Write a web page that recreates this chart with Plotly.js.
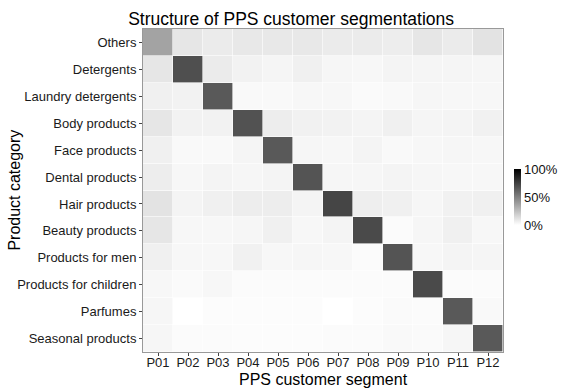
<!DOCTYPE html>
<html>
<head>
<meta charset="utf-8">
<script src="https://cdn.plot.ly/plotly-3.0.1.min.js"></script>
<style>
  body { margin: 0; background: #fff; }
  #myDiv { width: 581px; height: 388px; }
</style>
</head>
<body>
<div id="myDiv"></div>
<script>
// customer segments (columns) and product categories (rows)
var segments = ["P01","P02","P03","P04","P05","P06","P07","P08","P09","P10","P11","P12"];
var categories = ["Others","Detergents","Laundry detergents","Body products","Face products",
  "Dental products","Hair products","Beauty products","Products for men",
  "Products for children","Parfumes","Seasonal products"];

// share of each segment per category
var others      = [0.36,0.10,0.08,0.09,0.09,0.09,0.08,0.08,0.07,0.10,0.08,0.11];
var detergents  = [0.10,0.69,0.08,0.05,0.04,0.06,0.035,0.03,0.045,0.04,0.04,0.035];
var laundry     = [0.06,0.05,0.65,0.025,0.025,0.03,0.03,0.02,0.025,0.035,0.03,0.03];
var body        = [0.10,0.05,0.05,0.68,0.07,0.055,0.05,0.045,0.06,0.04,0.045,0.055];
var face        = [0.06,0.025,0.025,0.04,0.65,0.035,0.03,0.045,0.025,0.03,0.035,0.03];
var dental      = [0.07,0.03,0.045,0.035,0.045,0.67,0.035,0.035,0.045,0.035,0.03,0.03];
var hair        = [0.11,0.045,0.06,0.07,0.07,0.045,0.73,0.065,0.06,0.035,0.055,0.06];
var beauty      = [0.10,0.03,0.03,0.035,0.06,0.03,0.045,0.71,0.015,0.035,0.06,0.03];
var men         = [0.06,0.03,0.03,0.055,0.03,0.035,0.03,0.015,0.67,0.03,0.045,0.04];
var children    = [0.03,0.02,0.03,0.015,0.015,0.015,0.015,0.015,0.015,0.71,0.015,0.015];
var parfumes    = [0.035,0.0,0.01,0.01,0.01,0.01,0.0,0.01,0.02,0.015,0.65,0.025];
var seasonal    = [0.035,0.015,0.015,0.01,0.01,0.01,0.015,0.015,0.025,0.02,0.035,0.65];

var zvals = [others,detergents,laundry,body,face,dental,hair,beauty,men,children,parfumes,seasonal];

var font = "Liberation Sans, Arial, sans-serif";

var trace = {
  type: "heatmap",
  x: segments,
  y: categories,
  z: zvals,
  zmin: 0,
  zmax: 1,
  xgap: 0.6,
  ygap: 0.6,
  colorscale: [[0,"#ffffff"],[1,"#000000"]],
  colorbar: {
    thickness: 7,
    len: 56,
    lenmode: "pixels",
    x: 1.03,
    xanchor: "left",
    xpad: 0,
    ypad: 0,
    y: 0.48,
    yanchor: "middle",
    outlinewidth: 0,
    tickvals: [0,0.5,1],
    ticktext: ["0%","50%","100%"],
    ticks: "",
    tickfont: {family: font, size: 13, color: "#111"}
  }
};

var layout = {
  width: 581,
  height: 388,
  margin: {l: 143, r: 78, t: 29, b: 36, autoexpand: false},
  paper_bgcolor: "#ffffff",
  plot_bgcolor: "#ffffff",
  font: {family: font, color: "#1a1a1a"},
  title: {
    text: "Structure of PPS customer segmentations",
    font: {family: font, size: 17.5, color: "#000"},
    x: 0.501, xanchor: "center",
    y: 0.951, yanchor: "middle"
  },
  xaxis: {
    type: "category",
    tickfont: {size: 13, color: "#1a1a1a"},
    ticks: "outside", ticklen: 3, tickcolor: "#444",
    ticklabelstandoff: -5,
    showline: true, linecolor: "#999", mirror: true,
    showgrid: false, zeroline: false
  },
  yaxis: {
    type: "category",
    autorange: "reversed",
    tickfont: {size: 13, color: "#1a1a1a"},
    ticks: "outside", ticklen: 3, tickcolor: "#444",
    showline: true, linecolor: "#999", mirror: true,
    showgrid: false, zeroline: false
  },
  // axis titles placed as annotations to sit as tight as the original
  annotations: [
    {text: "PPS customer segment", xref: "paper", yref: "paper",
     x: 0.5, y: -0.086, xanchor: "center", yanchor: "middle",
     showarrow: false, font: {family: font, size: 16, color: "#000"}},
    {text: "Product category", xref: "paper", yref: "paper",
     x: -0.358, y: 0.5, xanchor: "center", yanchor: "middle", textangle: -90,
     showarrow: false, font: {family: font, size: 16, color: "#000"}}
  ]
};

Plotly.newPlot("myDiv", [trace], layout, {displayModeBar: false, staticPlot: true});
</script>
</body>
</html>
